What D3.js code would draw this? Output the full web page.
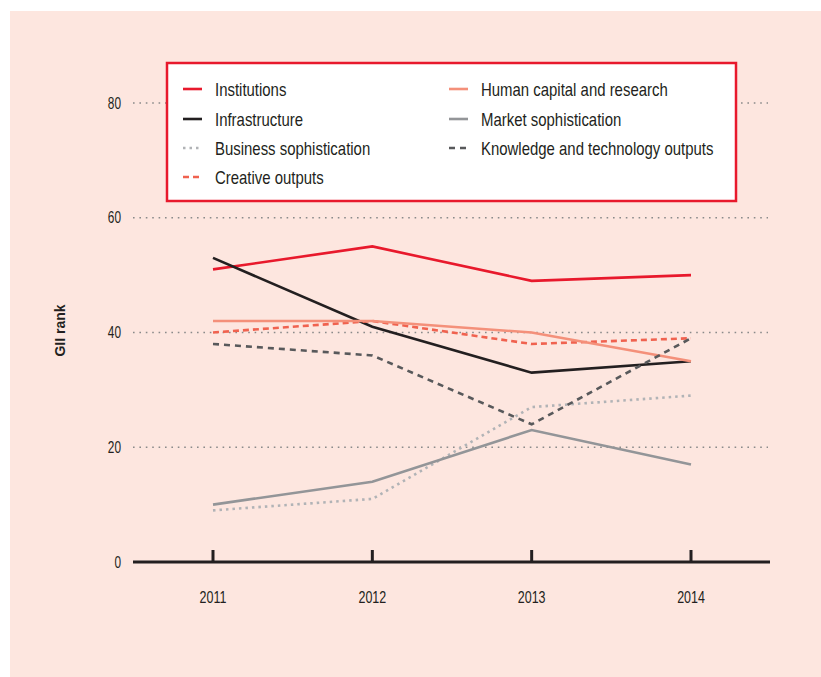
<!DOCTYPE html>
<html>
<head>
<meta charset="utf-8">
<script src="https://cdn.jsdelivr.net/npm/d3@7"></script>
<style>
  body { margin: 0; background: #fff; }
  text { font-family: "Liberation Sans", Arial, sans-serif; fill: #231f20; }
</style>
</head>
<body>
<div id="chart"></div>
<script>
// data
let years = [2011, 2012, 2013, 2014]
let yTicks = [0, 20, 40, 60, 80]

let institutions = [51, 55, 49, 50]
let infrastructure = [53, 41, 33, 35]
let businessSoph = [9, 11, 27, 29]
let creativeOutputs = [40, 42, 38, 39]
let humanCapital = [42, 42, 40, 35]
let marketSoph = [10, 14, 23, 17]
let knowledgeTech = [38, 36, 24, 39]

let seriesNames = ["Institutions", "Infrastructure", "Business sophistication", "Creative outputs",
                   "Human capital and research", "Market sophistication", "Knowledge and technology outputs"]
let seriesValues = [institutions, infrastructure, businessSoph, creativeOutputs, humanCapital, marketSoph, knowledgeTech]

// styles
let styles = {
  "Institutions": {color: "#e8192c", dash: null},
  "Infrastructure": {color: "#231f20", dash: null},
  "Business sophistication": {color: "#b1b3b6", dash: "2.5,4"},
  "Creative outputs": {color: "#f0624f", dash: "6,4"},
  "Human capital and research": {color: "#f4907a", dash: null},
  "Market sophistication": {color: "#939598", dash: null},
  "Knowledge and technology outputs": {color: "#58595b", dash: "6,5"}
}

let width = 821, height = 677

let svg = d3.select("#chart")
  .append("svg")
    .attr("width", width)
    .attr("height", height)

// panel background
svg.append("rect")
  .attr("x", 10).attr("y", 11)
  .attr("width", width - 10).attr("height", height - 11)
  .attr("fill", "#fde6df")

let x = d3.scalePoint()
  .domain(years)
  .range([213, 691])

let y = d3.scaleLinear()
  .domain([0, 80])
  .range([562, 103])

// narrow text: squeeze horizontally to imitate the condensed face
function narrowText(sel, px, py, sx, size, anchor) {
  return sel.append("g")
      .attr("transform", `translate(${px}, ${py}) scale(${sx}, 1)`)
    .append("text")
      .attr("text-anchor", anchor)
      .style("font-size", size + "px")
}

// gridlines
svg.append("g")
  .selectAll("line")
  .data(yTicks.filter(d => d > 0))
  .enter()
  .append("line")
    .attr("x1", 133).attr("x2", 768)
    .attr("y1", d => y(d)).attr("y2", d => y(d))
    .attr("stroke", "#8a8a8a")
    .attr("stroke-width", 1.6)
    .attr("stroke-dasharray", "1.6,4.8")

// y labels
let yAxisG = svg.append("g")
yTicks.forEach(function(t) {
  narrowText(yAxisG, 121, y(t) + 5.5, 0.74, 16, "end").text(t)
})

// y title
svg.append("text")
  .attr("transform", `translate(${65}, ${y(40) - 2}) rotate(-90)`)
  .attr("text-anchor", "middle")
  .style("font-size", "14px")
  .style("font-weight", "bold")
  .text("GII rank")

// x axis line + ticks
svg.append("line")
  .attr("x1", 133).attr("x2", 770)
  .attr("y1", y(0)).attr("y2", y(0))
  .attr("stroke", "#231f20")
  .attr("stroke-width", 3)

svg.append("g")
  .selectAll("line")
  .data(years)
  .enter()
  .append("line")
    .attr("x1", d => x(d)).attr("x2", d => x(d))
    .attr("y1", y(0)).attr("y2", y(0) - 12)
    .attr("stroke", "#231f20")
    .attr("stroke-width", 3)

let xAxisG = svg.append("g")
years.forEach(function(yr) {
  narrowText(xAxisG, x(yr), 603, 0.78, 16, "middle").text(yr)
})

// lines
let line = d3.line()
  .x((d, i) => x(years[i]))
  .y(d => y(d))

svg.append("g")
  .selectAll("path")
  .data(seriesNames.map((n, i) => ({name: n, values: seriesValues[i]})))
  .enter()
  .append("path")
    .attr("d", d => line(d.values))
    .attr("fill", "none")
    .attr("stroke", d => styles[d.name].color)
    .attr("stroke-width", 2.6)
    .attr("stroke-dasharray", d => styles[d.name].dash)

// legend box
let legend = svg.append("g")

legend.append("rect")
  .attr("x", 167).attr("y", 63)
  .attr("width", 569).attr("height", 138)
  .attr("fill", "#fff")
  .attr("stroke", "#e8192c")
  .attr("stroke-width", 2.5)

let legendPos = [
  [183, 89], [183, 119], [183, 148], [183, 177],
  [449, 89], [449, 119], [449, 148]
]

seriesNames.forEach(function(name, i) {
  let item = legend.append("g")
    .attr("transform", `translate(${legendPos[i][0]}, ${legendPos[i][1]})`)
  item.append("line")
    .attr("x1", 0).attr("x2", 19)
    .attr("y1", 0).attr("y2", 0)
    .attr("stroke", styles[name].color)
    .attr("stroke-width", 2.6)
    .attr("stroke-dasharray", styles[name].dash)
  narrowText(item, 32, 6.5, 0.83, 18, "start").text(name)
})
</script>
</body>
</html>
